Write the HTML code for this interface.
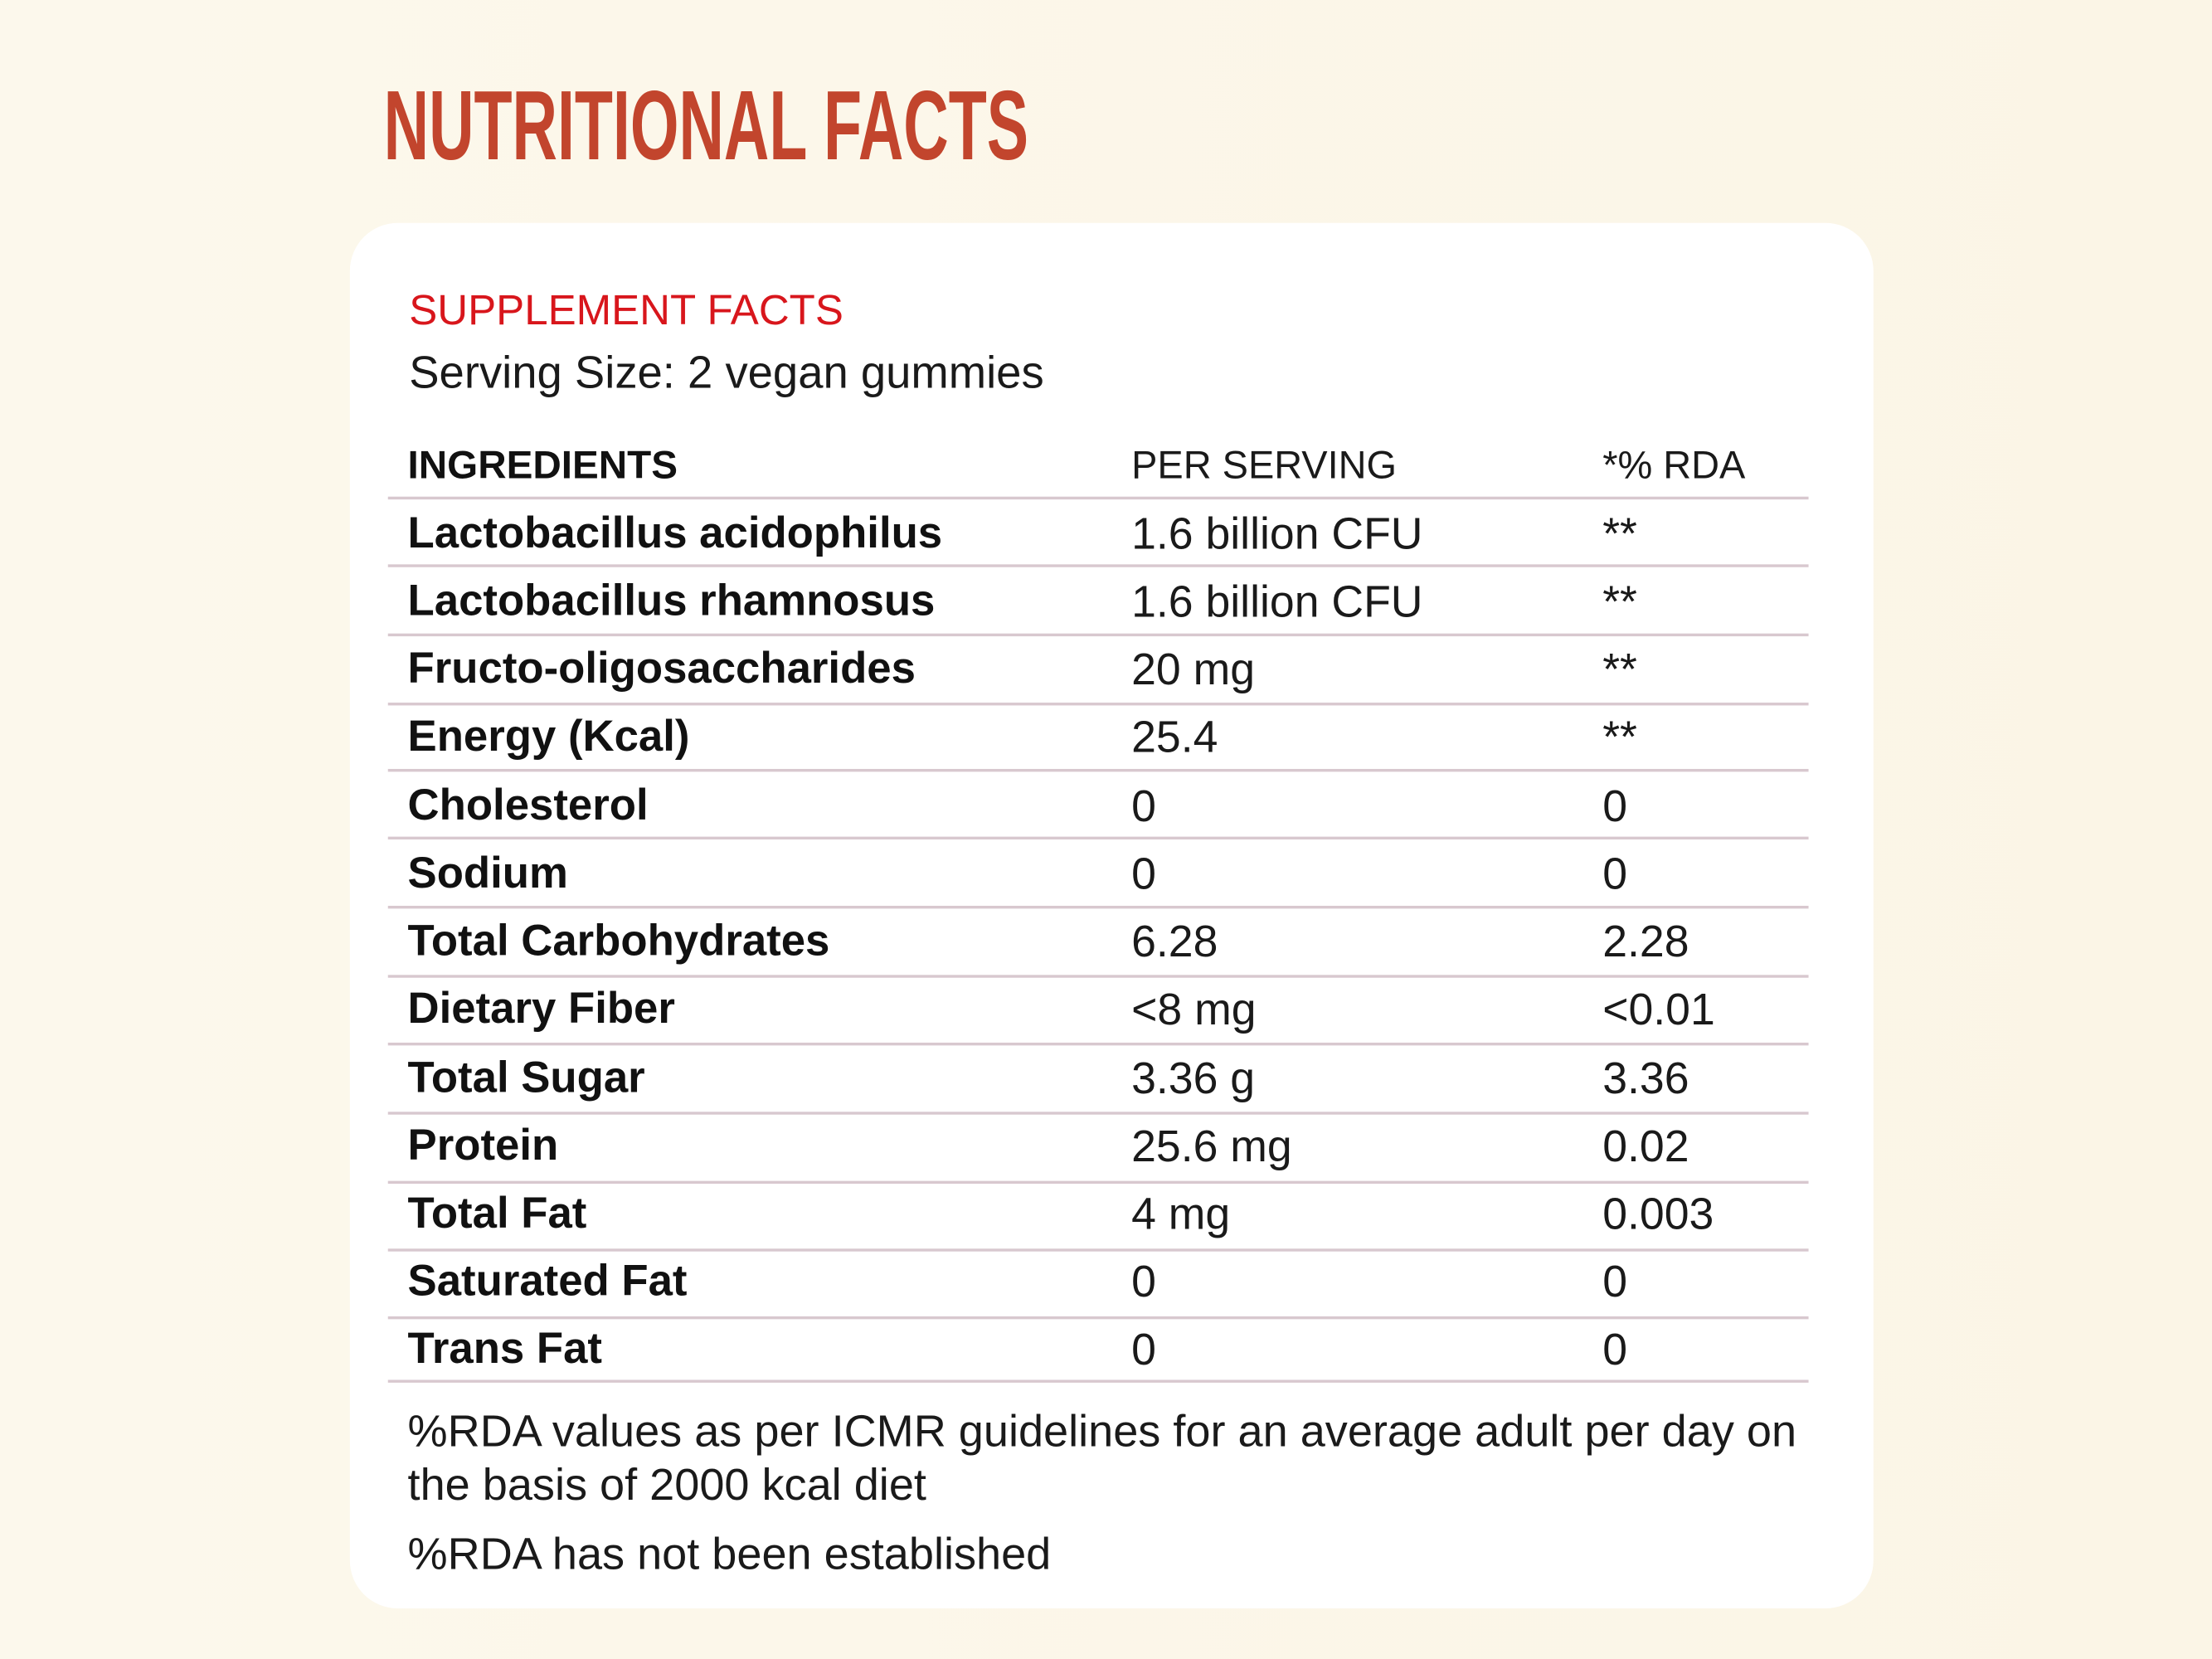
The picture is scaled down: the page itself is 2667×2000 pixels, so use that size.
<!DOCTYPE html>
<html><head><meta charset="utf-8"><style>
html,body{margin:0;padding:0;}
body{width:2667px;height:2000px;overflow:hidden;background:#fcf7ea;font-family:"Liberation Sans",sans-serif;}
#s{position:absolute;left:0;top:0;width:1568px;height:1176px;transform:scale(1.70089);transform-origin:0 0;background:linear-gradient(90deg,#fcf8ec,#fbf5e6);}
.t{position:absolute;white-space:nowrap;}
#title{left:272px;top:49px;font-size:70px;font-weight:bold;color:#c2452d;transform:scaleX(0.633);transform-origin:0 0;line-height:80px;}
#card{position:absolute;left:248px;top:158px;width:1080px;height:982px;background:#fff;border-radius:34px;}
.ln{position:absolute;left:275px;width:1007px;height:2px;background:#d8c8cf;}
.c1{left:289px;font-weight:bold;font-size:31px;color:#111;margin-top:-1px;}
.c2{left:802px;font-size:31.5px;color:#1a1a1a;margin-top:-1px;}
.c3{left:1136px;font-size:31.5px;color:#1a1a1a;margin-top:-1px;}
</style></head><body><div id="s">
<div class="t" id="title">NUTRITIONAL FACTS</div>
<div id="card"></div>
<div class="t" style="left:290px;top:204px;font-size:30px;color:#d8161c;">SUPPLEMENT FACTS</div>
<div class="t" style="left:290px;top:246px;font-size:32px;color:#1a1a1a;">Serving Size: 2 vegan gummies</div>
<div class="t" style="left:289px;top:314px;font-size:28px;font-weight:bold;color:#111;">INGREDIENTS</div>
<div class="t" style="left:802px;top:314px;font-size:27.6px;color:#1a1a1a;">PER SERVING</div>
<div class="t" style="left:1136px;top:314px;font-size:27.6px;color:#1a1a1a;">*% RDA</div>
<div class="ln" style="top:352px"></div>
<div class="ln" style="top:400px"></div>
<div class="ln" style="top:449px"></div>
<div class="ln" style="top:498px"></div>
<div class="ln" style="top:545px"></div>
<div class="ln" style="top:593px"></div>
<div class="ln" style="top:642px"></div>
<div class="ln" style="top:691px"></div>
<div class="ln" style="top:739px"></div>
<div class="ln" style="top:788px"></div>
<div class="ln" style="top:837px"></div>
<div class="ln" style="top:885px"></div>
<div class="ln" style="top:933px"></div>
<div class="ln" style="top:978px"></div>

<div class="t c1" style="top:361px">Lactobacillus acidophilus</div><div class="t c2" style="top:361px">1.6 billion CFU</div><div class="t c3" style="top:361px">**</div>
<div class="t c1" style="top:409px">Lactobacillus rhamnosus</div><div class="t c2" style="top:409px">1.6 billion CFU</div><div class="t c3" style="top:409px">**</div>
<div class="t c1" style="top:457px">Fructo-oligosaccharides</div><div class="t c2" style="top:457px">20 mg</div><div class="t c3" style="top:457px">**</div>
<div class="t c1" style="top:505px">Energy (Kcal)</div><div class="t c2" style="top:505px">25.4</div><div class="t c3" style="top:505px">**</div>
<div class="t c1" style="top:554px">Cholesterol</div><div class="t c2" style="top:554px">0</div><div class="t c3" style="top:554px">0</div>
<div class="t c1" style="top:602px">Sodium</div><div class="t c2" style="top:602px">0</div><div class="t c3" style="top:602px">0</div>
<div class="t c1" style="top:650px">Total Carbohydrates</div><div class="t c2" style="top:650px">6.28</div><div class="t c3" style="top:650px">2.28</div>
<div class="t c1" style="top:698px">Dietary Fiber</div><div class="t c2" style="top:698px">&lt;8 mg</div><div class="t c3" style="top:698px">&lt;0.01</div>
<div class="t c1" style="top:747px">Total Sugar</div><div class="t c2" style="top:747px">3.36 g</div><div class="t c3" style="top:747px">3.36</div>
<div class="t c1" style="top:795px">Protein</div><div class="t c2" style="top:795px">25.6 mg</div><div class="t c3" style="top:795px">0.02</div>
<div class="t c1" style="top:843px">Total Fat</div><div class="t c2" style="top:843px">4 mg</div><div class="t c3" style="top:843px">0.003</div>
<div class="t c1" style="top:891px">Saturated Fat</div><div class="t c2" style="top:891px">0</div><div class="t c3" style="top:891px">0</div>
<div class="t c1" style="top:939px">Trans Fat</div><div class="t c2" style="top:939px">0</div><div class="t c3" style="top:939px">0</div>

<div class="t" style="left:289px;top:996px;font-size:31.8px;color:#1a1a1a;">%RDA values as per ICMR guidelines for an average adult per day on</div>
<div class="t" style="left:289px;top:1034px;font-size:31.8px;color:#1a1a1a;">the basis of 2000 kcal diet</div>
<div class="t" style="left:289px;top:1083px;font-size:31.8px;color:#1a1a1a;">%RDA has not been established</div>
</div></body></html>
